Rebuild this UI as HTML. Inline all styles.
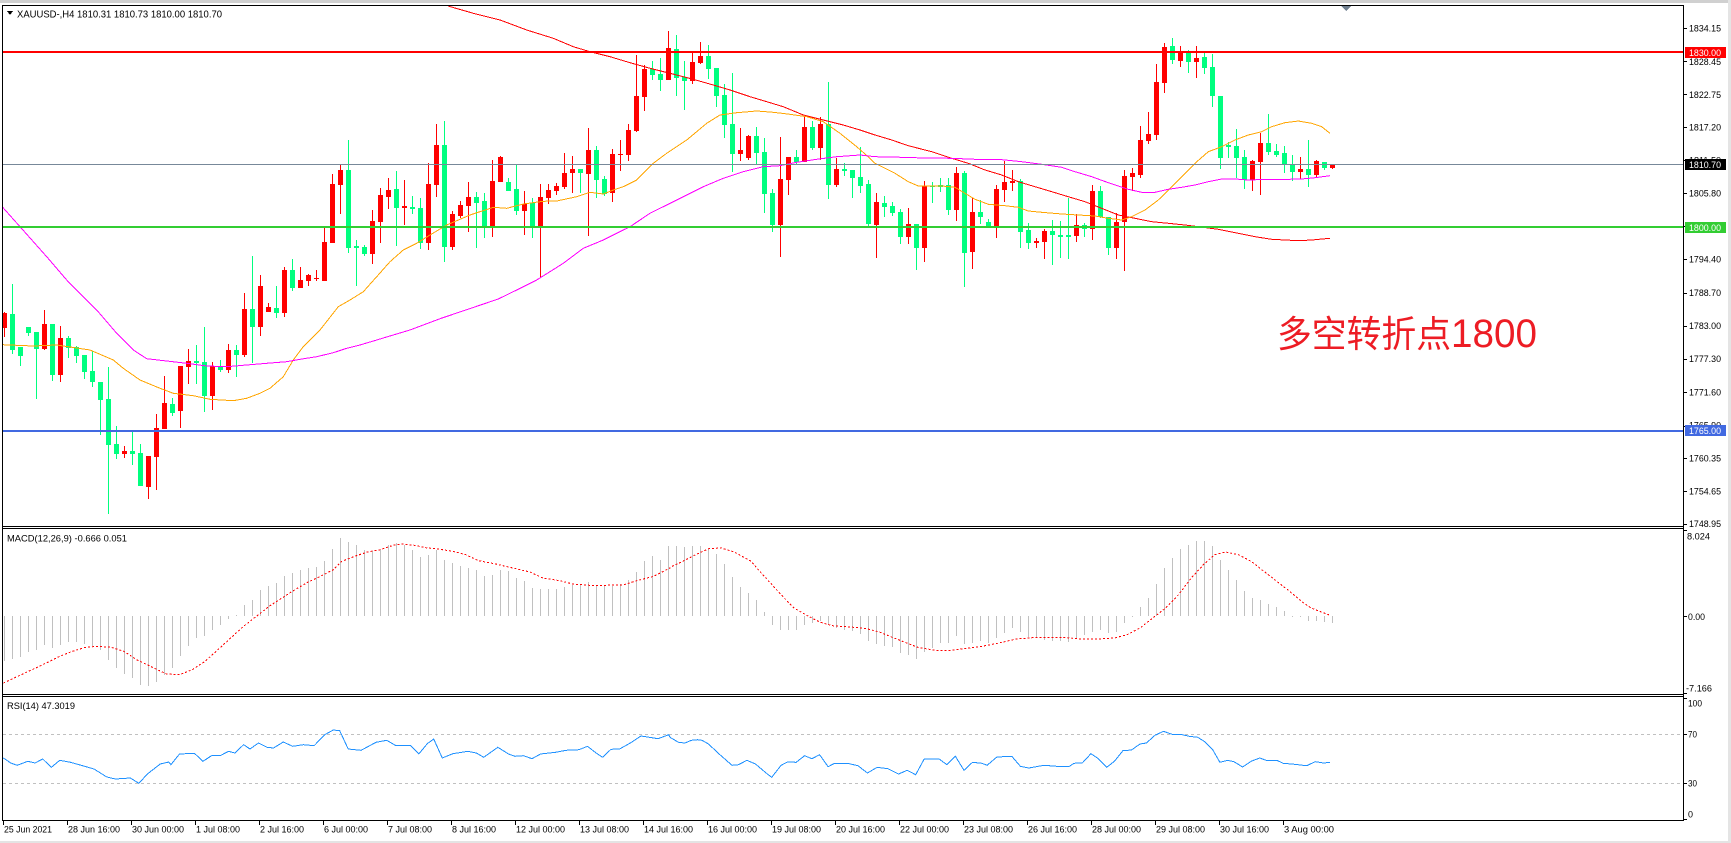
<!DOCTYPE html>
<html><head><meta charset="utf-8">
<style>
html,body{margin:0;padding:0;background:#fff;}
body{width:1731px;height:843px;overflow:hidden;position:relative;}
svg{position:absolute;left:0;top:0;}
text{font-family:"Liberation Sans",sans-serif;fill:#000;}
</style></head><body>
<svg id="s" width="1731" height="843" viewBox="0 0 1731 843" xmlns="http://www.w3.org/2000/svg" shape-rendering="crispEdges">
<rect x="0" y="0" width="1731" height="843" fill="#fff"/>
<rect x="0" y="0" width="1731" height="3" fill="#d0d0d0"/>
<rect x="1728" y="0" width="3" height="843" fill="#e4e4e4"/>
<rect x="0" y="841" width="1731" height="2" fill="#e4e4e4"/>

<g id="candles"></g>
<g id="lines"></g>

<!-- horizontal objects -->
<rect x="3" y="51" width="1680" height="2" fill="#ff0000"/>
<rect x="3" y="164" width="1680" height="1" fill="#778899"/>
<rect x="3" y="226" width="1680" height="2" fill="#32cd32"/>
<rect x="3" y="430" width="1680" height="2" fill="#4169e1"/>

<!-- RSI levels -->
<line x1="3" y1="734.5" x2="1682" y2="734.5" stroke="#c0c0c0" stroke-dasharray="3,3"/>
<line x1="3" y1="783.5" x2="1682" y2="783.5" stroke="#c0c0c0" stroke-dasharray="3,3"/>

<g id="ind"></g>

<!-- pane borders -->
<g stroke="#000" stroke-width="1" fill="none">
<line x1="2" y1="5.5" x2="1684" y2="5.5"/>
<line x1="2.5" y1="5" x2="2.5" y2="821"/>
<line x1="1683.5" y1="5" x2="1683.5" y2="821"/>
<line x1="2" y1="526.5" x2="1684" y2="526.5"/>
<line x1="2" y1="528.5" x2="1684" y2="528.5"/>
<line x1="2" y1="694.5" x2="1684" y2="694.5"/>
<line x1="2" y1="696.5" x2="1684" y2="696.5"/>
<line x1="2" y1="820.5" x2="1684" y2="820.5"/>
</g>

<!-- chart shift marker -->
<polygon points="1341,6 1351,6 1346,11" fill="#708090"/>

<!-- header -->
<polygon points="7,11 13,11 10,15" fill="#000"/>
<text x="17" y="17.5" font-size="10" textLength="205" lengthAdjust="spacingAndGlyphs">XAUUSD-,H4  1810.31 1810.73 1810.00 1810.70</text>
<text x="7" y="541.5" font-size="9" textLength="120" lengthAdjust="spacingAndGlyphs">MACD(12,26,9) -0.666 0.051</text>
<text x="7" y="709" font-size="9" textLength="68" lengthAdjust="spacingAndGlyphs">RSI(14) 47.3019</text>

<!-- Chinese annotation -->
<text x="1277" y="347" font-size="37" style="fill:#ed1c24;font-family:'Liberation Sans','Noto Sans CJK SC',sans-serif" textLength="174" lengthAdjust="spacingAndGlyphs">多空转折点</text>
<text x="1451" y="347" font-size="40" style="fill:#ed1c24" textLength="86" lengthAdjust="spacingAndGlyphs">1800</text>

<!-- price axis ticks -->
<g fill="#000" id="pticks">
<rect x="1684" y="28" width="3" height="1"/>
<rect x="1684" y="61" width="3" height="1"/>
<rect x="1684" y="94" width="3" height="1"/>
<rect x="1684" y="127" width="3" height="1"/>
<rect x="1684" y="160" width="3" height="1"/>
<rect x="1684" y="193" width="3" height="1"/>
<rect x="1684" y="226" width="3" height="1"/>
<rect x="1684" y="259" width="3" height="1"/>
<rect x="1684" y="293" width="3" height="1"/>
<rect x="1684" y="326" width="3" height="1"/>
<rect x="1684" y="359" width="3" height="1"/>
<rect x="1684" y="392" width="3" height="1"/>
<rect x="1684" y="426" width="3" height="1"/>
<rect x="1684" y="458" width="3" height="1"/>
<rect x="1684" y="491" width="3" height="1"/>
<rect x="1684" y="524" width="3" height="1"/>
<rect x="1684" y="530" width="3" height="1"/>
<rect x="1684" y="616" width="3" height="1"/>
<rect x="1684" y="693" width="3" height="1"/>
<rect x="1684" y="698" width="3" height="1"/>
<rect x="1684" y="734" width="3" height="1"/>
<rect x="1684" y="783" width="3" height="1"/>
<rect x="1684" y="819" width="3" height="1"/>
</g>
<g font-size="9">
<text x="1689" y="31.5" textLength="32" lengthAdjust="spacingAndGlyphs">1834.15</text>
<text x="1689" y="64.8" textLength="32" lengthAdjust="spacingAndGlyphs">1828.45</text>
<text x="1689" y="98" textLength="32" lengthAdjust="spacingAndGlyphs">1822.75</text>
<text x="1689" y="130.3" textLength="32" lengthAdjust="spacingAndGlyphs">1817.20</text>
<text x="1689" y="163.3" textLength="32" lengthAdjust="spacingAndGlyphs">1811.50</text>
<text x="1689" y="196.5" textLength="32" lengthAdjust="spacingAndGlyphs">1805.80</text>
<text x="1689" y="229.7" textLength="32" lengthAdjust="spacingAndGlyphs">1800.10</text>
<text x="1689" y="262.5" textLength="32" lengthAdjust="spacingAndGlyphs">1794.40</text>
<text x="1689" y="295.8" textLength="32" lengthAdjust="spacingAndGlyphs">1788.70</text>
<text x="1689" y="329" textLength="32" lengthAdjust="spacingAndGlyphs">1783.00</text>
<text x="1689" y="362.2" textLength="32" lengthAdjust="spacingAndGlyphs">1777.30</text>
<text x="1689" y="395.4" textLength="32" lengthAdjust="spacingAndGlyphs">1771.60</text>
<text x="1689" y="428.6" textLength="32" lengthAdjust="spacingAndGlyphs">1765.90</text>
<text x="1689" y="461.3" textLength="32" lengthAdjust="spacingAndGlyphs">1760.35</text>
<text x="1689" y="494.3" textLength="32" lengthAdjust="spacingAndGlyphs">1754.65</text>
<text x="1689" y="527" textLength="32" lengthAdjust="spacingAndGlyphs">1748.95</text>

<rect x="1685" y="47" width="41" height="11" fill="#ff0000"/>
<text x="1689" y="55.8" textLength="32" lengthAdjust="spacingAndGlyphs" style="fill:#fff">1830.00</text>
<rect x="1685" y="159" width="41" height="11" fill="#000"/>
<text x="1689" y="167.8" textLength="32" lengthAdjust="spacingAndGlyphs" style="fill:#fff">1810.70</text>
<rect x="1685" y="222" width="41" height="11" fill="#32cd32"/>
<text x="1689" y="230.8" textLength="32" lengthAdjust="spacingAndGlyphs" style="fill:#fff">1800.00</text>
<rect x="1685" y="425" width="41" height="11" fill="#4169e1"/>
<text x="1689" y="433.8" textLength="32" lengthAdjust="spacingAndGlyphs" style="fill:#fff">1765.00</text>

<text x="1687" y="539.5" textLength="23" lengthAdjust="spacingAndGlyphs">8.024</text>
<text x="1688" y="620" textLength="17" lengthAdjust="spacingAndGlyphs">0.00</text>
<text x="1686" y="691.5" textLength="26" lengthAdjust="spacingAndGlyphs">-7.166</text>
<text x="1688" y="706.5" textLength="14" lengthAdjust="spacingAndGlyphs">100</text>
<text x="1688" y="737.5" textLength="9" lengthAdjust="spacingAndGlyphs">70</text>
<text x="1688" y="786.5" textLength="9" lengthAdjust="spacingAndGlyphs">30</text>
<text x="1688" y="817.5" textLength="5" lengthAdjust="spacingAndGlyphs">0</text>
</g>

<!-- time axis -->
<g fill="#000">
<rect x="3" y="821" width="1" height="4"/><rect x="67" y="821" width="1" height="4"/><rect x="131" y="821" width="1" height="4"/><rect x="195" y="821" width="1" height="4"/><rect x="259" y="821" width="1" height="4"/><rect x="323" y="821" width="1" height="4"/><rect x="387" y="821" width="1" height="4"/><rect x="451" y="821" width="1" height="4"/><rect x="515" y="821" width="1" height="4"/><rect x="579" y="821" width="1" height="4"/><rect x="643" y="821" width="1" height="4"/><rect x="707" y="821" width="1" height="4"/><rect x="771" y="821" width="1" height="4"/><rect x="835" y="821" width="1" height="4"/><rect x="899" y="821" width="1" height="4"/><rect x="963" y="821" width="1" height="4"/><rect x="1027" y="821" width="1" height="4"/><rect x="1091" y="821" width="1" height="4"/><rect x="1155" y="821" width="1" height="4"/><rect x="1219" y="821" width="1" height="4"/><rect x="1283" y="821" width="1" height="4"/>
</g>
<g font-size="9">
<text x="4" y="832.5" textLength="48" lengthAdjust="spacingAndGlyphs">25 Jun 2021</text>
<text x="68" y="832.5" textLength="52" lengthAdjust="spacingAndGlyphs">28 Jun 16:00</text>
<text x="132" y="832.5" textLength="52" lengthAdjust="spacingAndGlyphs">30 Jun 00:00</text>
<text x="196" y="832.5" textLength="44" lengthAdjust="spacingAndGlyphs">1 Jul 08:00</text>
<text x="260" y="832.5" textLength="44" lengthAdjust="spacingAndGlyphs">2 Jul 16:00</text>
<text x="324" y="832.5" textLength="44" lengthAdjust="spacingAndGlyphs">6 Jul 00:00</text>
<text x="388" y="832.5" textLength="44" lengthAdjust="spacingAndGlyphs">7 Jul 08:00</text>
<text x="452" y="832.5" textLength="44" lengthAdjust="spacingAndGlyphs">8 Jul 16:00</text>
<text x="516" y="832.5" textLength="49" lengthAdjust="spacingAndGlyphs">12 Jul 00:00</text>
<text x="580" y="832.5" textLength="49" lengthAdjust="spacingAndGlyphs">13 Jul 08:00</text>
<text x="644" y="832.5" textLength="49" lengthAdjust="spacingAndGlyphs">14 Jul 16:00</text>
<text x="708" y="832.5" textLength="49" lengthAdjust="spacingAndGlyphs">16 Jul 00:00</text>
<text x="772" y="832.5" textLength="49" lengthAdjust="spacingAndGlyphs">19 Jul 08:00</text>
<text x="836" y="832.5" textLength="49" lengthAdjust="spacingAndGlyphs">20 Jul 16:00</text>
<text x="900" y="832.5" textLength="49" lengthAdjust="spacingAndGlyphs">22 Jul 00:00</text>
<text x="964" y="832.5" textLength="49" lengthAdjust="spacingAndGlyphs">23 Jul 08:00</text>
<text x="1028" y="832.5" textLength="49" lengthAdjust="spacingAndGlyphs">26 Jul 16:00</text>
<text x="1092" y="832.5" textLength="49" lengthAdjust="spacingAndGlyphs">28 Jul 00:00</text>
<text x="1156" y="832.5" textLength="49" lengthAdjust="spacingAndGlyphs">29 Jul 08:00</text>
<text x="1220" y="832.5" textLength="49" lengthAdjust="spacingAndGlyphs">30 Jul 16:00</text>
<text x="1284" y="832.5" textLength="50" lengthAdjust="spacingAndGlyphs">3 Aug 00:00</text>
</g>
</svg>
<script>
(function(){
var NS="http://www.w3.org/2000/svg";
function el(tag,a,p){var e=document.createElementNS(NS,tag);for(var k in a)e.setAttribute(k,a[k]);p.appendChild(e);return e;}
var gC=document.getElementById('candles'),gL=document.getElementById('lines'),gI=document.getElementById('ind');
var c7=[['r',545,548,595,620],['g',462,551,660,672],['g',652,652,678,708],['g',591,591,608,618],['g',606,606,656,806],['r',540,582,657,660],['g',582,582,735,752],['r',588,624,735,756],['g',618,624,653,684],['g',647,652,678,700],['g',675,675,725,746],['g',662,723,755,772],['g',756,756,810,914],['g',711,807,944,1151],['g',888,942,971,987],['r',948,963,971,983],['g',906,963,971,1006],['g',942,969,1067,1067],['r',978,978,1070,1106],['r',852,894,980,1079],['r',738,819,898,898],['g',804,822,848,857],['r',708,708,843,893],['r',657,693,710,762],['g',645,693,698,762],['g',591,696,797,845],['r',696,708,797,839],['g',690,711,720,726],['r',642,660,719,728],['g',645,660,674,740],['r',489,537,674,680],['g',378,537,590,698],['r',435,468,590,617],['r',519,531,545,545],['g',468,534,548,563],['r',411,420,548,560],['g',387,420,473,482],['r',411,450,473,473],['r',432,435,452,467],['r',420,444,446,452],['r',291,336,452,452],['r',132,162,338,338],['r',102,120,165,251],['g',30,120,353,368],['g',330,348,353,467],['g',345,351,371,377],['r',240,273,371,401],['r',174,195,275,338],['r',144,180,200,236],['g',123,177,233,347],['r',150,229,233,284],['g',197,231,236,251],['g',204,234,338,356],['r',99,162,338,359]];
var c8=[['r',372,435,555,590],['g',363,435,740,785],['r',633,642,740,750],['r',603,615,647,653],['r',546,591,617,695],['g',576,591,608,743],['g',579,603,680,713],['r',480,543,680,710],['r',468,471,545,545],['g',534,546,572,572],['g',494,567,632,644],['r',573,612,632,704],['g',595,609,680,713],['r',552,591,680,830],['r',552,570,593,612],['r',549,558,573,584],['r',459,519,561,567],['r',467,507,518,579],['g',507,507,518,579],['r',384,450,521,707],['g',438,450,540,593],['g',528,537,582,587],['r',447,462,578,605],['r',420,462,464,513],['r',372,390,464,482],['r',165,288,393,396],['r',195,207,291,333],['g',183,207,225,240],['g',174,222,240,273],['r',93,144,240,240],['g',105,147,233,288],['g',183,231,243,329],['r',159,186,243,251],['r',126,168,189,192],['g',135,168,207,237],['g',205,205,287,320],['g',252,285,375,413],['g',219,372,462,516],['r',384,450,462,482],['r',404,407,474,480],['g',381,407,459,492],['g',414,456,581,638],['g',567,579,676,695],['r',410,537,676,770],['r',471,471,540,585],['g',450,471,486,495],['r',347,380,486,486],['g',363,380,444,450],['r',351,372,444,480],['g',246,372,555,597],['r',474,507,555,561],['g',489,507,512,528],['g',510,510,534,594],['g',441,531,558,579],['g',540,552,672,680]];
var c9=[['r',580,605,675,775],['g',588,609,620,650],['g',606,618,638,648],['g',628,636,710,731],['r',624,672,710,731],['g',672,672,743,809],['r',543,558,743,785],['g',545,558,560,608],['g',535,556,560,575],['g',535,555,630,645],['r',500,518,630,662],['g',513,518,758,862],['r',593,635,755,806],['g',600,635,652,672],['g',658,666,678,678],['r',555,567,678,713],['r',483,546,570,605],['r',510,543,548,572],['g',537,543,695,743],['g',669,690,728,746],['r',713,722,728,743],['r',686,692,725,776],['g',660,692,705,794],['g',662,706,710,773],['g',593,706,710,776],['r',642,675,707,725],['g',669,675,686,710],['r',555,573,686,719],['g',558,573,650,655],['g',650,650,743,764],['r',640,665,743,776],['r',510,528,667,812],['r',505,519,531,572],['r',378,420,524,533],['r',336,402,422,431],['r',192,246,405,419],['r',129,141,248,279],['g',114,138,180,191],['r',138,155,182,200],['g',150,155,186,219],['r',138,174,186,233],['g',159,171,203,221],['g',162,201,287,320],['g',288,288,473,506],['g',425,435,440,473],['g',387,437,473,533],['g',450,471,541,566],['r',480,483,541,572],['r',398,429,486,584],['g',342,429,455,465],['g',432,453,464,470],['g',438,459,492,519],['g',464,492,515,542],['r',470,507,515,536],['g',420,507,524,560],['r',480,483,524,530],['g',486,486,503,509],['r',492,492,503,506]];
function add(arr,start,off){
 for(var j=0;j<arr.length;j++){var c=arr[j],i=start+j,cx=4+8*i;
  var wt=Math.round(off+c[1]/3),bt=Math.round(off+c[2]/3),bb=Math.round(off+c[3]/3),wb=Math.round(off+c[4]/3);
  if(wt<6)wt=6;
  var col=c[0]==='r'?'#ff0000':'#00ff7f';
  el('rect',{x:cx,y:wt,width:1,height:Math.max(1,wb-wt),fill:col},gC);
  el('rect',{x:cx-2,y:bt,width:5,height:Math.max(1,bb-bt),fill:col},gC);
 }
}
add(c7,0,130);add(c8,54,0);add(c9,109,0);
function pl(pts,col,p,dash){var s=pts.map(function(q){return q[0].toFixed(1)+','+q[1].toFixed(1);}).join(' ');
 var a={points:s,fill:'none',stroke:col,'stroke-width':1};if(dash)a['stroke-dasharray']=dash;el('polyline',a,p);}
var mag=[[2.7,207.3],[20,226.7],[46.7,256.7],[66.7,280],[96.7,310],[116.7,333.3],[133.3,350],[146.7,358.7],[166.7,361],[186.7,363.3],[206.7,366],[226.7,366.7],[246.7,365],[266.7,363.3],[286.7,361.7],[300,359.3],[316.7,356.7],[333.3,352.7],[346.7,348.3],[360,345],[376.7,340],[393.3,335],[410,330],[423.3,325],[440,318.7],[498.3,299],[516.7,290],[536.7,280],[563.3,263.3],[583.3,248.3],[603.3,240],[630,226.7],[650,213.3],[676.7,200],[703.3,186.7],[723.3,178.3],[743.3,171.7],[763.3,166.7],[780,165.7],[796.7,162.3],[816.7,159.3],[836.7,156.7],[860,155],[875,156.7],[901.7,157.3],[925,158],[951.7,158.3],[975,159.3],[998.3,159.3],[1021.7,161.7],[1041.7,164.3],[1061.7,167.3],[1075,171.7],[1091.7,176.7],[1108.3,182.7],[1128.3,189.3],[1141.7,192.3],[1155,192.3],[1168.3,189.3],[1181.7,187.3],[1195,185],[1208.3,181.7],[1221.7,179],[1235,179],[1248.3,180],[1268.3,179.3],[1288.3,179.3],[1301.7,179],[1315,177.7],[1330,175.7]];
var ora=[[2.7,344.7],[33.3,346],[56.7,345],[90,350],[113.3,360],[123.3,368.3],[140,380],[160,388.3],[173.3,393.3],[193.3,395.7],[210,399.3],[233.3,400.7],[246.7,398.3],[260,393.3],[270,388.3],[283.3,376.7],[293.3,360],[303.3,346.7],[320,330],[338.3,306.7],[350,300],[363.3,291.7],[376.7,276.7],[390,261.7],[403.3,250],[416.7,243.3],[430,235],[446.7,225],[470,215],[493.3,207.3],[506.7,208.3],[523.3,204],[543.3,201.3],[556.7,201],[576.7,196.7],[590,192.3],[603.3,194],[613.3,190],[623.3,186.7],[636.7,180],[653.3,163.3],[666.7,153.3],[686.7,140],[706.7,123.3],[720,115],[736.7,112.7],[756.7,111],[773.3,112.3],[790,114.3],[806.7,116.7],[823.3,121.7],[840,133.3],[856.7,146.7],[870,158.3],[875,163.3],[895,173.3],[908.3,181.7],[918.3,186],[941.7,186],[955,187.3],[965,193.3],[975,199.3],[988.3,204.3],[1005,205.7],[1018.3,207.3],[1028.3,211],[1041.7,212.3],[1061.7,214],[1078.3,215],[1095,216],[1108.3,218.3],[1121.7,220],[1131.7,216.7],[1145,210],[1158.3,200],[1171.7,186.7],[1185,173.3],[1195,163.3],[1208.3,151.7],[1221.7,146.7],[1235,140],[1248.3,135],[1261.7,131.7],[1271.7,126.7],[1285,122.7],[1298.3,121],[1311.7,123.3],[1321.7,126.7],[1330,133.3]];
var red=[[448,6],[473.3,13.3],[500,20],[526.7,30],[553.3,38.3],[573.3,46.7],[590,51.7],[610,56.7],[630,62.7],[650,68.3],[670,73.3],[693.3,79.3],[713.3,85],[730,90],[750,96.7],[766.7,101.7],[783.3,106.7],[803.3,115],[823.3,120],[843.3,125],[860,130],[875,135],[891.7,140],[908.3,145.7],[931.7,151.7],[951.7,158.3],[968.3,163.3],[985,170],[1001.7,175],[1018.3,181.7],[1035,186.7],[1051.7,191.7],[1068.3,196.7],[1085,201.7],[1101.7,208.3],[1118.3,215],[1135,218.3],[1151.7,221.7],[1168.3,223.3],[1185,225],[1198.3,226.7],[1218.3,229.3],[1238.3,233.3],[1255,236.7],[1271.7,239.3],[1285,240],[1298.3,240.7],[1311.7,240],[1330,238.3]];
pl(red,'#ff0000',gL);pl(ora,'#ffa500',gL);pl(mag,'#ff00ff',gL);
var h=[398,392,388,372,365,352,360,350,342,343,348,355,365,395,420,438,450,470,473,462,440,420,383,355,330,325,305,290,273,262,232,215,187,175,165,145,135,125,120,118,100,62,30,42,52,65,70,65,50,45,50,65,88,80,65,95,105,115,120,125,145,140,125,130,150,158,180,183,183,183,178,170,170,162,170,175,175,168,157,132,100,85,95,55,
55,57,55,55,62,78,108,148,178,195,215,252,290,305,305,305,290,285,278,290,300,305,308,318,338,348,353,358,375,380,392,372,360,345,345,325,348,345,340,345,330,315,300,312,328,328,335,338,338,342,330,322,312,305,315,312,285,268,237,210,168,120,90,62,52,40,40,55,95,125,155,188,210,215,228,238,250,265,268,278,280,282,285];
var base=616;
for(var i=0;i<h.length;i++){var y=Math.round(528+h[i]/3);var t=Math.min(y,base),b=Math.max(y,base);
 el('rect',{x:4+8*i,y:t,width:1,height:Math.max(1,b-t),fill:'#c0c0c0'},gI);}
function cv(a,x0){return a.map(function(q){return [x0+q[0]*0.4273,528+q[1]/3];});}
var s10=[[8,465],[50,440],[100,410],[140,385],[170,370],[200,358],[230,355],[260,358],[290,370],[320,395],[360,420],[390,438],[420,440],[450,425],[480,400],[510,365],[540,330],[570,295],[600,265],[630,235],[660,210],[690,185],[720,163],[750,145],[780,125],[800,100],[830,85],[860,72],[890,65],[920,52],[940,48],[970,52],[1000,60],[1020,62],[1060,70],[1090,80],[1120,98],[1160,108],[1200,120],[1240,132],[1270,150],[1310,158],[1340,168],[1380,172],[1420,172],[1460,170],[1490,158],[1530,145],[1568,120]];
var s11=[[0,118],[30,100],[60,80],[90,62],[120,60],[150,72],[190,100],[210,130],[235,165],[260,200],[290,240],[320,262],[350,282],[380,293],[430,298],[460,302],[490,312],[520,328],[550,343],[580,358],[620,367],[660,367],[700,360],[730,355],[770,345],[810,333],[860,328],[920,328],[960,333],[1000,333],[1040,330],[1070,320],[1100,300],[1130,270],[1160,240],[1190,200],[1220,150],[1250,108],[1275,80],[1300,72],[1330,80],[1360,100],[1390,130],[1420,160],[1450,190],[1480,222],[1500,240],[1520,250],[1545,262]];
pl(cv(s10,0).concat(cv(s11,670)),'#ff0000',gI,'2,2');
var r10=[[8,690],[25,705],[40,712],[65,700],[82,705],[100,693],[120,718],[140,697],[165,703],[190,712],[220,723],[250,747],[270,753],[305,750],[325,766],[345,738],[375,708],[395,702],[400,710],[420,678],[455,676],[475,700],[495,683],[515,683],[535,670],[550,675],[570,650],[585,663],[605,645],[625,658],[640,660],[663,642],[685,655],[710,650],[735,653],[760,620],[780,606],[795,608],[815,663],[845,667],[880,643],[905,637],[925,652],[960,652],[980,678],[1000,647],[1015,633],[1035,690],[1060,677],[1095,670],[1115,675],[1132,688],[1165,658],[1190,678],[1205,685],[1225,683],[1245,692],[1265,678],[1300,673],[1325,667],[1355,665],[1375,655],[1395,675],[1410,688],[1430,664],[1450,663],[1475,645],[1500,624],[1520,628],[1540,632],[1565,620]];
var r11=[[0,628],[20,643],[35,645],[50,637],[65,635],[75,637],[90,648],[115,678],[145,712],[160,710],[180,697],[200,708],[225,735],[238,748],[260,712],[275,702],[295,703],[315,683],[332,692],[350,680],[370,716],[385,706],[415,706],[440,713],[462,735],[485,718],[510,722],[535,738],[555,727],[575,740],[595,693],[630,693],[648,710],[668,685],[688,727],[708,703],[730,706],[742,712],[765,687],[800,685],[820,715],[840,720],[875,712],[905,715],[935,715],[945,706],[965,705],[985,677],[1000,690],[1022,718],[1040,700],[1060,668],[1080,666],[1100,648],[1115,645],[1135,622],[1155,610],[1175,619],[1195,619],[1215,625],[1235,628],[1250,640],[1270,665],[1287,703],[1305,697],[1320,701],[1340,717],[1360,700],[1380,690],[1395,697],[1420,697],[1435,706],[1455,708],[1490,713],[1510,701],[1530,705],[1545,703]];
pl(cv(r10,0).concat(cv(r11,670)),'#1e90ff',gI);
})();
</script>
</body></html>
